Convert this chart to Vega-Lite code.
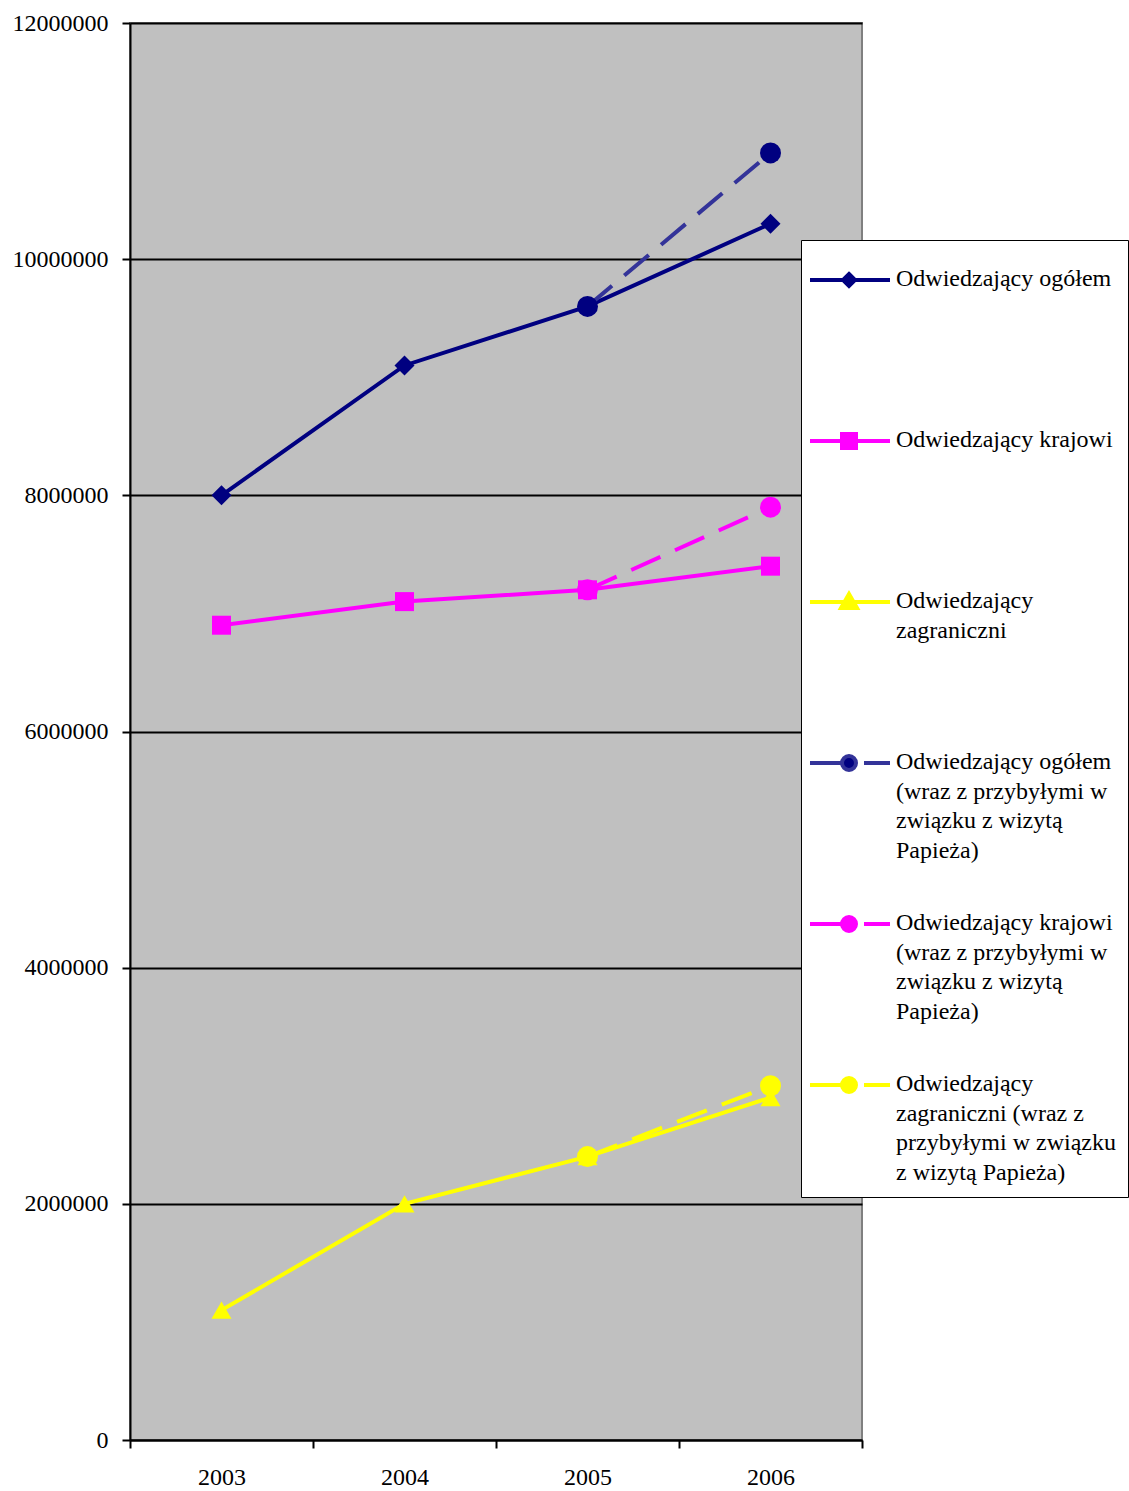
{
  "$schema": "https://vega.github.io/schema/vega-lite/v6.json",
  "width": 732,
  "height": 1417,
  "autosize": {"type": "none"},
  "padding": {"left": 130, "top": 23, "right": 267, "bottom": 51},
  "background": "white",
  "config": {
    "view": {"fill": "#C0C0C0", "stroke": "#808080", "strokeWidth": 2},
    "font": "Liberation Serif",
    "style": {"guide-label": {"lineHeight": 29.5}},
    "legend": {"title": null, "orient": "none", "legendX": 671, "legendY": 217, "padding": 12, "fillColor": "white", "strokeColor": "black", "symbolSize": 676, "symbolStrokeWidth": 4, "symbolFillColor": "white", "symbolStrokeColor": "black", "symbolOpacity": 1, "labelFont": "Liberation Serif", "labelFontSize": 24, "labelColor": "black", "labelLimit": 400, "labelOffset": 53, "labelBaseline": "top", "rowPadding": 33, "gridAlign": "all"}
  },
  "data": {
    "values": [
      {"series": "Odwiedzający ogółem", "marker": "diamond", "year": "2003", "value": 8000000},
      {"series": "Odwiedzający ogółem", "marker": "diamond", "year": "2004", "value": 9100000},
      {"series": "Odwiedzający ogółem", "marker": "diamond", "year": "2005", "value": 9600000},
      {"series": "Odwiedzający ogółem", "marker": "diamond", "year": "2006", "value": 10300000},
      {"series": "Odwiedzający krajowi", "marker": "square", "year": "2003", "value": 6900000},
      {"series": "Odwiedzający krajowi", "marker": "square", "year": "2004", "value": 7100000},
      {"series": "Odwiedzający krajowi", "marker": "square", "year": "2005", "value": 7200000},
      {"series": "Odwiedzający krajowi", "marker": "square", "year": "2006", "value": 7400000},
      {"series": "Odwiedzający|zagraniczni", "marker": "triangle", "year": "2003", "value": 1100000},
      {"series": "Odwiedzający|zagraniczni", "marker": "triangle", "year": "2004", "value": 2000000},
      {"series": "Odwiedzający|zagraniczni", "marker": "triangle", "year": "2005", "value": 2400000},
      {"series": "Odwiedzający|zagraniczni", "marker": "triangle", "year": "2006", "value": 2900000},
      {"series": "Odwiedzający ogółem|(wraz z przybyłymi w|związku z wizytą|Papieża)", "marker": "circle", "year": "2005", "value": 9600000},
      {"series": "Odwiedzający ogółem|(wraz z przybyłymi w|związku z wizytą|Papieża)", "marker": "circle", "year": "2006", "value": 10900000},
      {"series": "Odwiedzający krajowi|(wraz z przybyłymi w|związku z wizytą|Papieża)", "marker": "circle", "year": "2005", "value": 7200000},
      {"series": "Odwiedzający krajowi|(wraz z przybyłymi w|związku z wizytą|Papieża)", "marker": "circle", "year": "2006", "value": 7900000},
      {"series": "Odwiedzający|zagraniczni (wraz z|przybyłymi w związku|z wizytą Papieża)", "marker": "circle", "year": "2005", "value": 2400000},
      {"series": "Odwiedzający|zagraniczni (wraz z|przybyłymi w związku|z wizytą Papieża)", "marker": "circle", "year": "2006", "value": 3000000}
    ]
  },
  "encoding": {
    "x": {
      "field": "year", "type": "nominal",
      "scale": {"type": "band", "paddingInner": 0, "paddingOuter": 0},
      "axis": {"title": null, "labelAngle": 0, "tickBand": "extent", "grid": false,
        "labelFont": "Liberation Serif", "labelFontSize": 24, "labelColor": "black", "labelPadding": 17,
        "tickColor": "black", "tickSize": 8, "tickWidth": 2, "domainColor": "black", "domainWidth": 2}
    },
    "y": {
      "field": "value", "type": "quantitative",
      "scale": {"domain": [0, 12000000], "nice": false},
      "axis": {"title": null, "values": [0, 2000000, 4000000, 6000000, 8000000, 10000000, 12000000], "format": "d",
        "labelFont": "Liberation Serif", "labelFontSize": 24, "labelColor": "black", "labelPadding": 14,
        "tickColor": "black", "tickSize": 8, "tickWidth": 2, "domainColor": "black", "domainWidth": 2,
        "grid": true, "gridColor": "black", "gridWidth": 2}
    }
  },
  "layer": [
    {
      "transform": [{"filter": "datum.marker != 'circle'"}],
      "mark": {"type": "line", "strokeWidth": 4},
      "encoding": {
        "stroke": {"field": "series", "type": "nominal",
          "legend": {"labelExpr": "split(datum.label, '|')"},
          "scale": {"domain": ["Odwiedzający ogółem", "Odwiedzający krajowi", "Odwiedzający|zagraniczni", "Odwiedzający ogółem|(wraz z przybyłymi w|związku z wizytą|Papieża)", "Odwiedzający krajowi|(wraz z przybyłymi w|związku z wizytą|Papieża)", "Odwiedzający|zagraniczni (wraz z|przybyłymi w związku|z wizytą Papieża)"],
            "range": ["#000080", "#FF00FF", "#FFFF00", "#333399", "#FF00FF", "#FFFF00"]}}
      }
    },
    {
      "transform": [{"filter": "datum.marker == 'circle'"}],
      "mark": {"type": "line", "strokeWidth": 4, "strokeDash": [32, 16]},
      "encoding": {
        "stroke": {"field": "series", "type": "nominal",
          "legend": {"labelExpr": "split(datum.label, '|')"},
          "scale": {"domain": ["Odwiedzający ogółem", "Odwiedzający krajowi", "Odwiedzający|zagraniczni", "Odwiedzający ogółem|(wraz z przybyłymi w|związku z wizytą|Papieża)", "Odwiedzający krajowi|(wraz z przybyłymi w|związku z wizytą|Papieża)", "Odwiedzający|zagraniczni (wraz z|przybyłymi w związku|z wizytą Papieża)"],
            "range": ["#000080", "#FF00FF", "#FFFF00", "#333399", "#FF00FF", "#FFFF00"]}}
      }
    },
    {
      "transform": [{"filter": "datum.marker == 'circle'"}],
      "mark": {"type": "point", "filled": true, "opacity": 1, "strokeWidth": 0, "shape": "circle", "size": 441},
      "encoding": {
        "fill": {"field": "series", "type": "nominal",
          "legend": {"labelExpr": "split(datum.label, '|')"},
          "scale": {"domain": ["Odwiedzający ogółem", "Odwiedzający krajowi", "Odwiedzający|zagraniczni", "Odwiedzający ogółem|(wraz z przybyłymi w|związku z wizytą|Papieża)", "Odwiedzający krajowi|(wraz z przybyłymi w|związku z wizytą|Papieża)", "Odwiedzający|zagraniczni (wraz z|przybyłymi w związku|z wizytą Papieża)"],
            "range": ["#000080", "#FF00FF", "#FFFF00", "#000080", "#FF00FF", "#FFFF00"]}}
      }
    },
    {
      "transform": [{"filter": "datum.marker == 'diamond'"}],
      "mark": {"type": "point", "filled": true, "opacity": 1, "strokeWidth": 0, "shape": "diamond", "size": 400},
      "encoding": {
        "fill": {"field": "series", "type": "nominal",
          "legend": {"labelExpr": "split(datum.label, '|')"},
          "scale": {"domain": ["Odwiedzający ogółem", "Odwiedzający krajowi", "Odwiedzający|zagraniczni", "Odwiedzający ogółem|(wraz z przybyłymi w|związku z wizytą|Papieża)", "Odwiedzający krajowi|(wraz z przybyłymi w|związku z wizytą|Papieża)", "Odwiedzający|zagraniczni (wraz z|przybyłymi w związku|z wizytą Papieża)"],
            "range": ["#000080", "#FF00FF", "#FFFF00", "#000080", "#FF00FF", "#FFFF00"]}}
      }
    },
    {
      "transform": [{"filter": "datum.marker == 'square'"}],
      "mark": {"type": "point", "filled": true, "opacity": 1, "strokeWidth": 0, "shape": "square", "size": 361},
      "encoding": {
        "fill": {"field": "series", "type": "nominal",
          "legend": {"labelExpr": "split(datum.label, '|')"},
          "scale": {"domain": ["Odwiedzający ogółem", "Odwiedzający krajowi", "Odwiedzający|zagraniczni", "Odwiedzający ogółem|(wraz z przybyłymi w|związku z wizytą|Papieża)", "Odwiedzający krajowi|(wraz z przybyłymi w|związku z wizytą|Papieża)", "Odwiedzający|zagraniczni (wraz z|przybyłymi w związku|z wizytą Papieża)"],
            "range": ["#000080", "#FF00FF", "#FFFF00", "#000080", "#FF00FF", "#FFFF00"]}}
      }
    },
    {
      "transform": [{"filter": "datum.marker == 'triangle'"}],
      "mark": {"type": "point", "filled": true, "opacity": 1, "strokeWidth": 0, "shape": "triangle-up", "size": 400},
      "encoding": {
        "fill": {"field": "series", "type": "nominal",
          "legend": {"labelExpr": "split(datum.label, '|')"},
          "scale": {"domain": ["Odwiedzający ogółem", "Odwiedzający krajowi", "Odwiedzający|zagraniczni", "Odwiedzający ogółem|(wraz z przybyłymi w|związku z wizytą|Papieża)", "Odwiedzający krajowi|(wraz z przybyłymi w|związku z wizytą|Papieża)", "Odwiedzający|zagraniczni (wraz z|przybyłymi w związku|z wizytą Papieża)"],
            "range": ["#000080", "#FF00FF", "#FFFF00", "#000080", "#FF00FF", "#FFFF00"]}}
      }
    },
    {
      "mark": {"type": "point", "filled": true, "opacity": 0, "size": 676},
      "encoding": {
        "fill": {"field": "series", "type": "nominal",
          "legend": {"labelExpr": "split(datum.label, '|')"},
          "scale": {"domain": ["Odwiedzający ogółem", "Odwiedzający krajowi", "Odwiedzający|zagraniczni", "Odwiedzający ogółem|(wraz z przybyłymi w|związku z wizytą|Papieża)", "Odwiedzający krajowi|(wraz z przybyłymi w|związku z wizytą|Papieża)", "Odwiedzający|zagraniczni (wraz z|przybyłymi w związku|z wizytą Papieża)"],
            "range": ["#000080", "#FF00FF", "#FFFF00", "#000080", "#FF00FF", "#FFFF00"]}},
        "stroke": {"field": "series", "type": "nominal",
          "legend": {"labelExpr": "split(datum.label, '|')"},
          "scale": {"domain": ["Odwiedzający ogółem", "Odwiedzający krajowi", "Odwiedzający|zagraniczni", "Odwiedzający ogółem|(wraz z przybyłymi w|związku z wizytą|Papieża)", "Odwiedzający krajowi|(wraz z przybyłymi w|związku z wizytą|Papieża)", "Odwiedzający|zagraniczni (wraz z|przybyłymi w związku|z wizytą Papieża)"],
            "range": ["#000080", "#FF00FF", "#FFFF00", "#333399", "#FF00FF", "#FFFF00"]}},
        "shape": {"field": "series", "type": "nominal",
          "legend": {"labelExpr": "split(datum.label, '|')"},
          "scale": {"domain": ["Odwiedzający ogółem", "Odwiedzający krajowi", "Odwiedzający|zagraniczni", "Odwiedzający ogółem|(wraz z przybyłymi w|związku z wizytą|Papieża)", "Odwiedzający krajowi|(wraz z przybyłymi w|związku z wizytą|Papieża)", "Odwiedzający|zagraniczni (wraz z|przybyłymi w związku|z wizytą Papieża)"],
            "range": [
              "M-1.385,1H4.769M1.615,0.538L2.077,1L1.615,1.462L1.154,1Z",
              "M-1.385,1H4.769M1.077,0.462H2.154V1.538H1.077Z",
              "M-1.385,1H4.769M1.615,0.385L2.231,1.462L1,1.462Z",
              "M-1.385,1H1.077M2.769,1H4.769M1.077,1A0.538,0.538 0 1,0 2.154,1A0.538,0.538 0 1,0 1.077,1Z",
              "M-1.385,1H1.077M2.769,1H4.769M1.077,1A0.538,0.538 0 1,0 2.154,1A0.538,0.538 0 1,0 1.077,1Z",
              "M-1.385,1H1.077M2.769,1H4.769M1.077,1A0.538,0.538 0 1,0 2.154,1A0.538,0.538 0 1,0 1.077,1Z"
            ]}}
      }
    }
  ]
}
